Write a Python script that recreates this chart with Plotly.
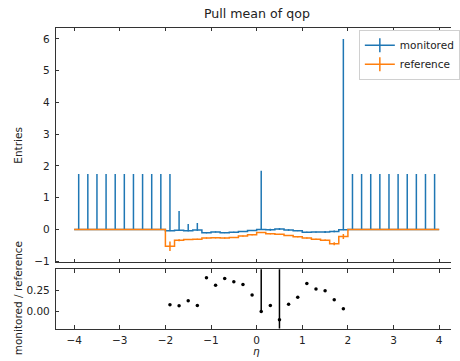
import plotly.graph_objects as go

# ---------------- data ----------------
bin_edges = [-4.0, -3.8, -3.6, -3.4, -3.2, -3.0, -2.8, -2.6, -2.4, -2.2,
             -2.0, -1.8, -1.6, -1.4, -1.2, -1.0, -0.8, -0.6, -0.4, -0.2,
             0.0, 0.2, 0.4, 0.6, 0.8, 1.0, 1.2, 1.4, 1.6, 1.8,
             2.0, 2.2, 2.4, 2.6, 2.8, 3.0, 3.2, 3.4, 3.6, 3.8, 4.0]

monitored = [0, 0, 0, 0, 0, 0, 0, 0, 0, 0,
             -0.042, -0.022, -0.040, -0.021, -0.106, -0.080, -0.104, -0.087, -0.066, -0.033,
             0.0, -0.009, 0.015, -0.016, -0.038, -0.088, -0.081, -0.082, -0.062, -0.006,
             0, 0, 0, 0, 0, 0, 0, 0, 0, 0]
monitored_err_up = [1.75, 1.75, 1.75, 1.75, 1.75, 1.75, 1.75, 1.75, 1.75, 1.75,
                    1.79, 0.60, 0.21, 0.22, 0.012, 0.012, 0.012, 0.012, 0.012, 0.012,
                    1.85, 0.03, 0.03, 0.025, 0.015, 0.012, 0.012, 0.03, 0.03, 6.006,
                    1.75, 1.75, 1.75, 1.75, 1.75, 1.75, 1.75, 1.75, 1.75, 1.75]
monitored_err_dn = [0, 0, 0, 0, 0, 0, 0, 0, 0, 0,
                    0, 0.02, 0.02, 0.02, 0.012, 0.012, 0.012, 0.012, 0.012, 0.012,
                    0, 0.03, 0.03, 0.025, 0.015, 0.012, 0.012, 0.03, 0.03, 0,
                    0, 0, 0, 0, 0, 0, 0, 0, 0, 0]

reference = [0, 0, 0, 0, 0, 0, 0, 0, 0, 0,
             -0.53, -0.34, -0.32, -0.31, -0.27, -0.26, -0.27, -0.25, -0.21, -0.17,
             -0.10, -0.135, -0.155, -0.19, -0.23, -0.27, -0.31, -0.34, -0.45, -0.22,
             0, 0, 0, 0, 0, 0, 0, 0, 0, 0]
reference_err = [0, 0, 0, 0, 0, 0, 0, 0, 0, 0,
                 0.15, 0.03, 0.015, 0.015, 0.015, 0.015, 0.015, 0.015, 0.015, 0.015,
                 0.015, 0.015, 0.015, 0.015, 0.015, 0.015, 0.015, 0.02, 0.05, 0.08,
                 0, 0, 0, 0, 0, 0, 0, 0, 0, 0]

ratio_x = [-1.9, -1.7, -1.5, -1.3, -1.1, -0.9, -0.7, -0.5, -0.3, -0.1,
           0.1, 0.3, 0.5, 0.7, 0.9, 1.1, 1.3, 1.5, 1.7, 1.9]
ratio = [0.077, 0.066, 0.124, 0.069, 0.392, 0.307, 0.384, 0.346, 0.314, 0.192,
         0.0, 0.069, -0.096, 0.084, 0.165, 0.326, 0.261, 0.242, 0.137, 0.031]
ratio_err_up = [0, 0, 0, 0, 0, 0, 0, 0, 0, 0,
                1.0, 0, 1.0, 0, 0, 0, 0, 0, 0, 0]
ratio_err_dn = [0, 0, 0, 0, 0, 0, 0, 0, 0, 0,
                0, 0, 0.5, 0, 0, 0, 0, 0, 0, 0]

x_ticks = [-4, -3, -2, -1, 0, 1, 2, 3, 4]
y_ticks = [-1, 0, 1, 2, 3, 4, 5, 6]
ratio_ticks = [0.0, 0.25]

BLUE = "#1f77b4"
ORANGE = "#ff7f0e"
FONT = "DejaVu Sans"
W, H = 460, 361

centers = [(a + b) / 2 for a, b in zip(bin_edges[:-1], bin_edges[1:])]

fig = go.Figure()

def add_hist(vals, up, dn, color, name):
    fig.add_trace(go.Scatter(
        x=bin_edges, y=vals + [vals[-1]], mode="lines",
        line=dict(color=color, width=1.5, shape="hv"),
        showlegend=False, hoverinfo="skip", xaxis="x", yaxis="y"))
    fig.add_trace(go.Scatter(
        x=centers, y=vals, mode="markers",
        marker=dict(size=1, color=color),
        error_y=dict(type="data", symmetric=False, array=up, arrayminus=dn,
                     color=color, thickness=1.5, width=0),
        showlegend=False, xaxis="x", yaxis="y"))
    fig.add_trace(go.Scatter(
        x=[None], y=[None], mode="lines+markers", name=name,
        line=dict(color=color, width=1.5),
        marker=dict(symbol="line-ns-open", size=10, color=color,
                    line=dict(color=color, width=1.5)),
        xaxis="x", yaxis="y"))

add_hist(monitored, monitored_err_up, monitored_err_dn, BLUE, "monitored")
add_hist(reference, reference_err, reference_err, ORANGE, "reference")

fig.add_trace(go.Scatter(
    x=ratio_x, y=ratio, mode="markers",
    marker=dict(size=3.5, color="black"),
    error_y=dict(type="data", symmetric=False, array=ratio_err_up,
                 arrayminus=ratio_err_dn, color="black", thickness=1.5, width=0),
    showlegend=False, xaxis="x2", yaxis="y2"))

# geometry (pixels)
left_px = 57.0
px_per_unit = 46.54
x_lo = -4.4
x_hi = x_lo + (W - left_px) / px_per_unit
top1, bot1 = 28.0, 265.3
top2, bot2 = 272.3, 332.3

def py(p):
    return 1 - p / H

axis_line = dict(showline=True, linecolor="#333", linewidth=1, showgrid=False,
                 zeroline=False, ticks="inside", ticklen=3.5, tickwidth=1,
                 tickcolor="#333",
                 tickfont=dict(family=FONT, size=10.5, color="#222"))

fig.update_layout(
    width=W, height=H,
    margin=dict(l=0, r=0, t=0, b=0),
    paper_bgcolor="white", plot_bgcolor="white",
    font=dict(family=FONT, size=10.5, color="#222"),
    xaxis=dict(domain=[left_px / W, 1], range=[x_lo, x_hi], anchor="y",
               tickvals=x_ticks, showticklabels=False, mirror="ticks", **axis_line),
    yaxis=dict(domain=[py(bot1), py(top1)], range=[-1.037, 6.355], anchor="x",
               tickvals=y_ticks, ticklabelstandoff=3, **axis_line),
    xaxis2=dict(domain=[left_px / W, 1], range=[x_lo, x_hi], anchor="y2",
                tickvals=x_ticks, mirror="ticks", ticklabelstandoff=2, **axis_line),
    yaxis2=dict(domain=[py(bot2), py(top2)], range=[-0.2, 0.492], anchor="x2",
                tickvals=ratio_ticks, tickformat=".2f", ticklabelstandoff=3,
                **axis_line),
    legend=dict(x=366 / W, y=py(30), xanchor="left", yanchor="top",
                bgcolor="rgba(255,255,255,0.8)", bordercolor="#d0d0d0",
                borderwidth=1, font=dict(family=FONT, size=10.5, color="#222"),
                itemwidth=30, tracegroupgap=0, entrywidth=100,
                entrywidthmode="pixels"),
    showlegend=True,
    annotations=[
        dict(text="Pull mean of qop", x=262 / W, y=py(14), xref="paper", yref="paper",
             showarrow=False, xanchor="center", yanchor="middle",
             font=dict(family=FONT, size=12.6, color="#222")),
        dict(text="Entries", x=18 / W, y=py((top1 + bot1) / 2), xref="paper",
             yref="paper", showarrow=False, textangle=-90, xanchor="center",
             yanchor="middle", font=dict(family=FONT, size=10.5, color="#222")),
        dict(text="monitored / reference", x=18 / W, y=py(302), xref="paper",
             yref="paper", showarrow=False, textangle=-90, xanchor="center",
             yanchor="middle", font=dict(family=FONT, size=10.5, color="#222")),
        dict(text="<i>η</i>", x=262 / W, y=py(355), xref="paper", yref="paper",
             showarrow=False, xanchor="center", yanchor="middle",
             font=dict(family=FONT, size=10.5, color="#222")),
    ],
)

fig.write_html("out.html")
